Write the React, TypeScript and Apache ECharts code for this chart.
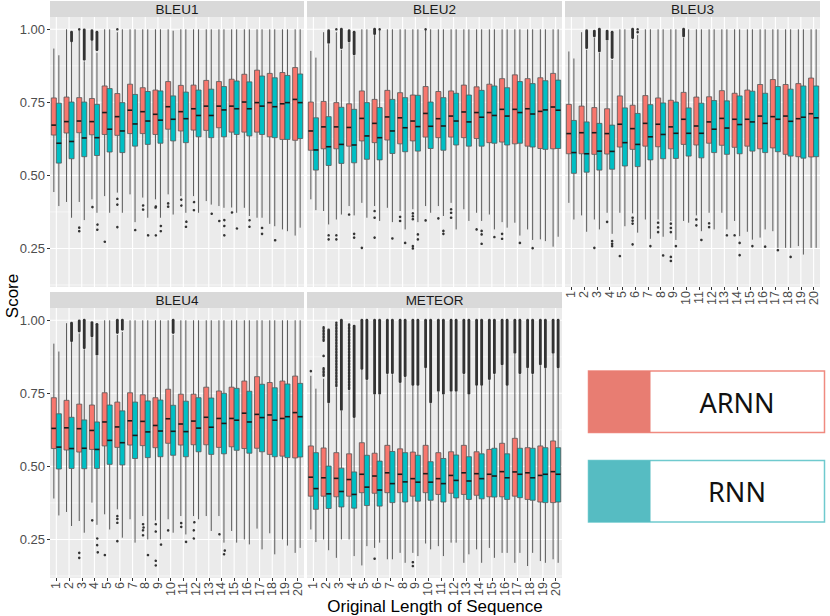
import React, { useEffect, useRef } from "react";
import * as echarts from "echarts";

const CATEGORIES = ["1","2","3","4","5","6","7","8","9","10","11","12","13","14","15","16","17","18","19","20"];
const PANELS = ["BLEU1", "BLEU2", "BLEU3", "BLEU4", "METEOR"];
const GROUPS = ["ARNN", "RNN"];
const Y_MIN = 0.118;
const Y_MAX = 1.042;
const Y_TICKS = [0.25, 0.5, 0.75, 1.0];
const Y_MINOR = [0.125, 0.375, 0.625, 0.875];
const X_TITLE = "Original Length of Sequence";
const Y_TITLE = "Score";

// each box: [lower whisker, Q1, median, Q3, upper whisker]
const BLEU1_ARNN = [
  [0.443,0.638,0.672,0.765,0.934],[0.409,0.645,0.684,0.768,1.0],[0.409,0.646,0.686,0.766,1.0],[0.418,0.639,0.684,0.763,0.96],
  [0.429,0.640,0.715,0.806,1.0],[0.441,0.637,0.701,0.780,0.99],[0.435,0.643,0.723,0.812,1.0],[0.424,0.643,0.718,0.800,1.0],
  [0.418,0.640,0.709,0.792,1.0],[0.435,0.658,0.735,0.821,1.0],[0.429,0.652,0.718,0.808,1.0],[0.429,0.655,0.728,0.809,1.0],
  [0.412,0.654,0.737,0.825,1.0],[0.395,0.663,0.737,0.821,1.0],[0.39,0.648,0.737,0.829,1.0],[0.389,0.648,0.751,0.846,1.0],
  [0.355,0.648,0.749,0.860,1.0],[0.334,0.632,0.749,0.849,1.0],[0.315,0.623,0.745,0.852,1.0],[0.294,0.620,0.760,0.869,1.0],
];
const BLEU1_RNN = [
  [0.395,0.542,0.610,0.747,0.911],[0.355,0.557,0.616,0.751,0.957],[0.347,0.564,0.628,0.751,0.89],[0.372,0.568,0.629,0.743,0.92],
  [0.372,0.580,0.658,0.797,1.0],[0.372,0.578,0.652,0.749,1.0],[0.340,0.600,0.676,0.777,1.0],[0.355,0.606,0.686,0.787,1.0],
  [0.355,0.610,0.689,0.789,1.0],[0.366,0.618,0.692,0.772,0.995],[0.372,0.612,0.694,0.785,1.0],[0.372,0.632,0.705,0.792,1.0],
  [0.40,0.629,0.705,0.795,1.0],[0.389,0.632,0.724,0.804,1.0],[0.372,0.640,0.728,0.823,1.0],[0.361,0.635,0.728,0.820,1.0],
  [0.355,0.640,0.737,0.840,1.0],[0.326,0.629,0.735,0.834,1.0],[0.309,0.623,0.749,0.842,1.0],[0.321,0.626,0.749,0.847,1.0],
];
const BLEU1_ARNN_OUT = [[3,0.321],[3,0.309],[3,1.0],[4,0.395],[5,0.275],[6,1.0],[6,0.42],[6,0.40],[6,0.323],[8,0.40],[8,0.386],[9,0.397],[9,0.392],[9,0.298],[10,0.404],[10,0.393],[11,0.42],[11,0.40],[12,0.412],[12,0.384],[14,0.347],[15,0.376]];
const BLEU1_RNN_OUT = [[4,0.335],[4,0.317],[7,0.315],[8,0.298],[9,0.33],[9,0.312],[11,0.345],[11,0.326],[13,0.372],[14,0.35],[14,0.33],[14,0.298],[15,0.321],[16,0.349],[16,0.326],[17,0.32],[17,0.30],[18,0.281]];
const BLEU1_ARNN_BAND = [[4,0.965,0.995]];
const BLEU1_RNN_BAND = [[2,0.96,0.99],[3,0.897,0.998],[4,0.93,0.99]];

const BLEU2_ARNN = [
  [0.418,0.586,0.652,0.751,0.926],[0.378,0.591,0.666,0.753,0.99],[0.349,0.591,0.666,0.749,0.99],[0.395,0.600,0.664,0.745,0.955],
  [0.406,0.618,0.695,0.789,1.0],[0.395,0.612,0.678,0.760,0.98],[0.389,0.621,0.700,0.791,1.0],[0.378,0.608,0.697,0.783,1.0],
  [0.384,0.618,0.686,0.775,1.0],[0.395,0.631,0.712,0.804,1.0],[0.395,0.629,0.694,0.787,1.0],[0.406,0.631,0.703,0.789,1.0],
  [0.384,0.629,0.717,0.809,1.0],[0.372,0.626,0.715,0.803,1.0],[0.366,0.612,0.715,0.812,1.0],[0.340,0.614,0.726,0.831,1.0],
  [0.338,0.608,0.726,0.844,1.0],[0.315,0.600,0.728,0.831,1.0],[0.281,0.592,0.719,0.834,1.0],[0.256,0.591,0.734,0.849,1.0],
];
const BLEU2_RNN = [
  [0.381,0.518,0.587,0.697,0.903],[0.332,0.534,0.598,0.701,0.949],[0.366,0.541,0.606,0.733,0.93],[0.363,0.543,0.604,0.726,0.909],
  [0.355,0.555,0.635,0.749,1.0],[0.344,0.553,0.629,0.732,1.0],[0.340,0.575,0.652,0.760,1.0],[0.315,0.581,0.663,0.766,1.0],
  [0.340,0.583,0.667,0.774,1.0],[0.372,0.592,0.668,0.751,1.0],[0.361,0.586,0.669,0.766,1.0],[0.315,0.604,0.686,0.781,1.0],
  [0.344,0.600,0.683,0.775,1.0],[0.344,0.600,0.699,0.791,1.0],[0.315,0.610,0.705,0.806,1.0],[0.321,0.604,0.703,0.800,1.0],
  [0.294,0.610,0.715,0.821,1.0],[0.279,0.597,0.710,0.814,1.0],[0.275,0.589,0.724,0.824,1.0],[0.290,0.592,0.723,0.826,1.0],
];
const BLEU2_ARNN_OUT = [[3,1.0],[10,1.0],[3,0.295],[3,0.281],[4,0.366],[5,0.252],[6,0.378],[6,0.355],[6,0.287],[8,0.358],[8,0.344],[9,0.37],[9,0.36],[9,0.35],[9,0.258],[9,0.25],[10,0.346],[11,0.353],[12,0.384],[12,0.372],[12,0.355],[14,0.315],[16,0.30],[16,0.283]];
const BLEU2_RNN_OUT = [[6,1.0],[2,0.295],[2,0.281],[4,0.30],[4,0.287],[7,0.284],[8,0.269],[9,0.298],[9,0.281],[11,0.31],[11,0.30],[14,0.31],[14,0.298],[14,0.266],[15,0.289],[17,0.269],[18,0.251]];
const BLEU2_ARNN_BAND = [[4,0.96,0.995],[6,0.985,1.0]];
const BLEU2_RNN_BAND = [[2,0.955,0.995],[3,0.937,1.0],[4,0.915,0.99]];

const BLEU3_ARNN = [
  [0.406,0.574,0.643,0.743,0.924],[0.363,0.574,0.646,0.737,0.99],[0.349,0.572,0.646,0.732,0.97],[0.372,0.573,0.643,0.728,0.96],
  [0.372,0.597,0.675,0.772,1.0],[0.37,0.589,0.660,0.740,0.965],[0.349,0.600,0.678,0.773,1.0],[0.349,0.598,0.675,0.765,1.0],
  [0.344,0.591,0.666,0.757,1.0],[0.344,0.606,0.692,0.784,0.97],[0.363,0.604,0.669,0.768,1.0],[0.372,0.610,0.683,0.769,1.0],
  [0.372,0.603,0.695,0.790,1.0],[0.344,0.596,0.692,0.781,1.0],[0.307,0.600,0.692,0.792,1.0],[0.287,0.591,0.703,0.811,1.0],
  [0.309,0.594,0.701,0.828,1.0],[0.252,0.572,0.703,0.811,1.0],[0.258,0.564,0.694,0.814,1.0],[0.252,0.563,0.711,0.833,1.0],
];
const BLEU3_RNN = [
  [0.349,0.507,0.578,0.688,0.900],[0.307,0.511,0.574,0.683,0.93],[0.315,0.518,0.583,0.678,0.92],[0.30,0.521,0.582,0.672,0.895],
  [0.326,0.532,0.612,0.731,1.0],[0.304,0.530,0.606,0.712,0.98],[0.283,0.553,0.632,0.742,1.0],[0.290,0.557,0.640,0.748,1.0],
  [0.279,0.558,0.644,0.751,1.0],[0.338,0.566,0.644,0.731,1.0],[0.309,0.560,0.644,0.747,1.0],[0.315,0.578,0.658,0.756,1.0],
  [0.315,0.572,0.662,0.755,1.0],[0.292,0.574,0.674,0.772,1.0],[0.28,0.583,0.683,0.788,1.0],[0.315,0.578,0.678,0.781,1.0],
  [0.252,0.581,0.692,0.804,1.0],[0.252,0.566,0.685,0.795,1.0],[0.229,0.559,0.699,0.806,1.0],[0.252,0.564,0.697,0.806,1.0],
];
const BLEU3_ARNN_OUT = [[3,0.252],[4,0.341],[5,0.224],[6,0.355],[6,0.345],[6,0.335],[6,0.264],[8,0.338],[8,0.322],[8,0.306],[9,0.335],[9,0.32],[9,0.306],[9,0.221],[9,0.207],[11,0.349],[11,0.329],[12,0.336],[12,0.323],[14,0.295]];
const BLEU3_RNN_OUT = [[6,0.99],[6,1.0],[4,0.275],[4,0.266],[4,0.258],[7,0.258],[8,0.226],[9,0.258],[11,0.279],[13,0.295],[14,0.269],[14,0.227],[15,0.258],[16,0.256],[17,0.244],[18,0.221]];
const BLEU3_ARNN_BAND = [[3,0.977,0.994],[4,0.966,0.994],[6,0.971,1.0],[10,0.977,1.0]];
const BLEU3_RNN_BAND = [[2,0.937,0.995],[3,0.926,1.0],[4,0.903,0.99]];

const BLEU4_ARNN = [
  [0.390,0.561,0.630,0.735,0.920],[0.344,0.556,0.632,0.726,0.99],[0.313,0.549,0.629,0.713,0.955],[0.376,0.558,0.623,0.710,0.94],
  [0.336,0.570,0.652,0.752,1.0],[0.353,0.565,0.635,0.720,0.95],[0.319,0.573,0.656,0.752,1.0],[0.330,0.571,0.654,0.745,1.0],
  [0.315,0.564,0.640,0.735,1.0],[0.319,0.579,0.663,0.764,1.0],[0.330,0.573,0.645,0.747,1.0],[0.330,0.574,0.655,0.747,1.0],
  [0.330,0.574,0.668,0.771,1.0],[0.330,0.565,0.664,0.758,1.0],[0.279,0.567,0.664,0.771,1.0],[0.250,0.561,0.682,0.792,1.0],
  [0.287,0.562,0.678,0.807,1.0],[0.271,0.541,0.676,0.787,1.0],[0.250,0.535,0.664,0.792,1.0],[0.204,0.529,0.684,0.809,1.0],
];
const BLEU4_RNN = [
  [0.332,0.491,0.566,0.680,0.893],[0.296,0.493,0.561,0.668,0.925],[0.273,0.492,0.562,0.659,0.90],[0.30,0.493,0.558,0.652,0.878],
  [0.284,0.507,0.589,0.710,1.0],[0.256,0.505,0.581,0.690,0.96],[0.239,0.527,0.606,0.720,1.0],[0.25,0.530,0.618,0.724,1.0],
  [0.250,0.533,0.621,0.727,1.0],[0.273,0.538,0.620,0.709,0.95],[0.267,0.533,0.619,0.723,1.0],[0.319,0.550,0.631,0.735,1.0],
  [0.279,0.541,0.634,0.734,1.0],[0.239,0.543,0.647,0.750,1.0],[0.239,0.555,0.658,0.767,1.0],[0.233,0.545,0.652,0.757,1.0],
  [0.216,0.550,0.667,0.781,1.0],[0.199,0.533,0.658,0.769,1.0],[0.229,0.530,0.670,0.782,1.0],[0.221,0.532,0.670,0.784,1.0],
];
const BLEU4_ARNN_OUT = [[3,0.204],[3,0.187],[4,0.318],[5,0.199],[6,0.33],[6,0.32],[6,0.307],[6,0.244],[8,0.305],[8,0.295],[8,0.284],[8,0.267],[9,0.305],[9,0.28],[9,0.18],[9,0.164],[10,0.281],[11,0.309],[11,0.296],[12,0.313],[12,0.284],[12,0.256],[14,0.271]];
const BLEU4_RNN_OUT = [[4,0.256],[4,0.233],[4,0.21],[8,0.199],[9,0.236],[11,0.244],[14,0.216],[14,0.201]];
const BLEU4_ARNN_BAND = [[3,0.963,0.998],[4,0.946,0.992],[6,0.958,1.0]];
const BLEU4_RNN_BAND = [[2,0.93,0.99],[3,0.906,1.0],[4,0.884,0.986],[6,0.969,1.0],[10,0.958,1.0]];

const METEOR_ARNN = [
  [0.284,0.398,0.463,0.570,0.81],[0.250,0.398,0.461,0.563,0.80],[0.187,0.396,0.459,0.547,0.77],[0.250,0.398,0.455,0.543,0.76],
  [0.161,0.410,0.473,0.581,0.83],[0.221,0.408,0.467,0.545,0.745],[0.182,0.410,0.478,0.572,0.815],[0.204,0.410,0.473,0.560,0.785],
  [0.204,0.398,0.458,0.549,0.775],[0.236,0.410,0.475,0.572,0.835],[0.227,0.404,0.458,0.547,0.755],[0.239,0.408,0.469,0.550,0.755],
  [0.170,0.404,0.478,0.572,0.815],[0.216,0.401,0.475,0.550,0.775],[0.221,0.396,0.473,0.558,0.795],[0.204,0.396,0.482,0.579,0.845],
  [0.170,0.398,0.481,0.596,0.885],[0.159,0.387,0.478,0.564,0.835],[0.176,0.378,0.469,0.570,0.845],[0.182,0.376,0.482,0.587,0.885],
];
const METEOR_RNN = [
  [0.241,0.353,0.424,0.547,0.766],[0.213,0.356,0.406,0.501,0.715],[0.250,0.361,0.414,0.494,0.69],[0.193,0.357,0.404,0.481,0.665],
  [0.227,0.366,0.429,0.538,0.795],[0.239,0.364,0.419,0.518,0.745],[0.182,0.376,0.441,0.551,0.815],[0.170,0.378,0.447,0.547,0.805],
  [0.193,0.381,0.446,0.538,0.775],[0.216,0.384,0.446,0.516,0.715],[0.193,0.378,0.441,0.527,0.745],[0.239,0.392,0.452,0.539,0.755],
  [0.199,0.387,0.450,0.533,0.745],[0.170,0.389,0.458,0.543,0.775],[0.187,0.395,0.467,0.562,0.815],[0.204,0.387,0.461,0.543,0.775],
  [0.204,0.393,0.473,0.562,0.815],[0.204,0.384,0.461,0.562,0.815],[0.170,0.376,0.473,0.564,0.835],[0.170,0.378,0.473,0.564,0.835],
];
const METEOR_ARNN_OUT = [[1,0.826],[2,0.878],[6,0.184],[9,0.172],[9,0.159]];
const METEOR_RNN_OUT = [];
// [category, from, to, sparse]
const METEOR_ARNN_BAND = [[2,0.93,0.978,1],[2,0.81,0.84,1],[3,0.775,0.992,1],[4,0.765,0.99,1],[5,0.835,1.0],[6,0.75,1.0],[7,0.82,1.0],[8,0.79,1.0],[9,0.78,1.0],[10,0.84,1.0],[11,0.76,1.0],[12,0.76,1.0],[13,0.82,1.0],[14,0.78,1.0],[15,0.80,1.0],[16,0.85,1.0],[17,0.89,1.0],[18,0.84,1.0],[19,0.85,1.0],[20,0.89,1.0]];
const METEOR_RNN_BAND = [[2,0.72,0.967],[3,0.695,1.0],[4,0.67,0.98],[5,0.80,1.0],[6,0.75,1.0],[7,0.82,1.0],[8,0.81,1.0],[9,0.78,1.0],[10,0.72,1.0],[11,0.75,1.0],[12,0.76,1.0],[13,0.75,1.0],[14,0.78,1.0],[15,0.82,1.0],[16,0.78,1.0],[17,0.82,1.0],[18,0.82,1.0],[19,0.84,1.0],[20,0.84,1.0]];

const DATA: any = {
  BLEU1: { ARNN: [BLEU1_ARNN, BLEU1_ARNN_OUT, BLEU1_ARNN_BAND], RNN: [BLEU1_RNN, BLEU1_RNN_OUT, BLEU1_RNN_BAND] },
  BLEU2: { ARNN: [BLEU2_ARNN, BLEU2_ARNN_OUT, BLEU2_ARNN_BAND], RNN: [BLEU2_RNN, BLEU2_RNN_OUT, BLEU2_RNN_BAND] },
  BLEU3: { ARNN: [BLEU3_ARNN, BLEU3_ARNN_OUT, BLEU3_ARNN_BAND], RNN: [BLEU3_RNN, BLEU3_RNN_OUT, BLEU3_RNN_BAND] },
  BLEU4: { ARNN: [BLEU4_ARNN, BLEU4_ARNN_OUT, BLEU4_ARNN_BAND], RNN: [BLEU4_RNN, BLEU4_RNN_OUT, BLEU4_RNN_BAND] },
  METEOR: { ARNN: [METEOR_ARNN, METEOR_ARNN_OUT, METEOR_ARNN_BAND], RNN: [METEOR_RNN, METEOR_RNN_OUT, METEOR_RNN_BAND] },
};

const FONT = "'Liberation Sans', Arial, Helvetica, sans-serif";
const FILL: any = { ARNN: "#F8766D", RNN: "#00BFC4" };
const PH = 270;
const STRIP_H = 16;
const BOX_FRAC = 0.395;
const LAYOUT = [
  { x: 50, y: 17, w: 254, showX: false, showY: true },
  { x: 307, y: 17, w: 255, showX: false, showY: false },
  { x: 565, y: 17, w: 255, showX: true, showY: false },
  { x: 50, y: 308, w: 254, showX: true, showY: true },
  { x: 307, y: 308, w: 255, showX: true, showY: false },
];

function boxRenderer(sign: number, fill: string) {
  return (params: any, api: any) => {
    const i = api.value(0);
    const c = api.coord([i, 0])[0];
    const bw = api.size([1, 0])[0];
    const w = bw * BOX_FRAC;
    const cx = c + (sign * w) / 2;
    const py = (k: number) => api.coord([i, api.value(k)])[1];
    const yLo = py(1), yQ1 = py(2), yMed = py(3), yQ3 = py(4), yHi = py(5);
    const wh = { stroke: "#5a5a5a", lineWidth: 1 };
    return {
      type: "group",
      children: [
        { type: "line", shape: { x1: cx, y1: yHi, x2: cx, y2: yQ3 }, style: wh },
        { type: "line", shape: { x1: cx, y1: yQ1, x2: cx, y2: yLo }, style: wh },
        { type: "rect", shape: { x: cx - w / 2, y: yQ3, width: w, height: yQ1 - yQ3 }, style: { fill, stroke: "#555555", lineWidth: 0.8 } },
        { type: "line", shape: { x1: cx - w / 2, y1: yMed, x2: cx + w / 2, y2: yMed }, style: { stroke: "#1a1a1a", lineWidth: 1.6 } },
      ],
    };
  };
}

function dotRenderer(sign: number) {
  return (params: any, api: any) => {
    const i = api.value(0);
    const c = api.coord([i, 0])[0];
    const bw = api.size([1, 0])[0];
    const cx = c + (sign * bw * BOX_FRAC) / 2;
    const y = api.coord([i, api.value(1)])[1];
    return { type: "circle", shape: { cx, cy: y, r: 1.3 }, style: { fill: "#333333" } };
  };
}

function bandRenderer(sign: number) {
  return (params: any, api: any) => {
    const i = api.value(0);
    const c = api.coord([i, 0])[0];
    const bw = api.size([1, 0])[0];
    const cx = c + (sign * bw * BOX_FRAC) / 2;
    const y1 = api.coord([i, api.value(1)])[1];
    const y2 = api.coord([i, api.value(2)])[1];
    const sparse = api.value(3) === 1;
    return {
      type: "line",
      shape: { x1: cx, y1, x2: cx, y2 },
      style: { stroke: "#333333", lineWidth: sparse ? 2.4 : 2.8, lineCap: "round", lineDash: sparse ? [1.6, 1.4] : null },
    };
  };
}

function buildOption() {
  const grid: any[] = [];
  const xAxis: any[] = [];
  const yAxis: any[] = [];
  const series: any[] = [];
  const graphic: any[] = [];

  PANELS.forEach((name, pi) => {
    const L = LAYOUT[pi];
    grid.push({ left: L.x, top: L.y, width: L.w, height: PH, show: true, backgroundColor: "#EBEBEB", borderWidth: 0, containLabel: false, outerBoundsMode: "none" });
    xAxis.push({
      type: "category", gridIndex: pi, data: CATEGORIES, boundaryGap: true,
      axisLine: { show: false },
      axisTick: { show: L.showX, length: 3, alignWithLabel: true, interval: 0, lineStyle: { color: "#333333" } },
      axisLabel: { show: L.showX, rotate: 90, margin: 4, interval: 0, fontSize: 12.5, color: "#4D4D4D", fontFamily: FONT },
      splitLine: { show: false },
    });
    yAxis.push({
      type: "value", gridIndex: pi, min: Y_MIN, max: Y_MAX,
      axisLine: { show: false },
      axisTick: { show: L.showY, length: 3, customValues: Y_TICKS, lineStyle: { color: "#333333" } },
      axisLabel: { show: L.showY, customValues: Y_TICKS, margin: 5, fontSize: 13, color: "#4D4D4D", fontFamily: FONT, formatter: (v: number) => v.toFixed(2) },
      splitLine: { show: false },
    });
    series.push({
      type: "custom", xAxisIndex: pi, yAxisIndex: pi, silent: true, z: 1,
      data: [...Y_MINOR.map((v) => [0, v, 0]), ...Y_TICKS.map((v) => [0, v, 1])],
      encode: { x: 0, y: 1 },
      renderItem: (params: any, api: any) => {
        const cs = params.coordSys;
        const y = api.coord([0, api.value(1)])[1];
        return { type: "line", shape: { x1: cs.x, y1: y, x2: cs.x + cs.width, y2: y }, style: { stroke: "#ffffff", lineWidth: api.value(2) ? 1.1 : 0.55 } };
      },
    });
    series.push({
      type: "custom", xAxisIndex: pi, yAxisIndex: pi, silent: true, z: 1,
      data: CATEGORIES.map((_, i) => [i, 0.5]),
      encode: { x: 0, y: 1 },
      renderItem: (params: any, api: any) => {
        const cs = params.coordSys;
        const x = api.coord([api.value(0), 0.5])[0];
        return { type: "line", shape: { x1: x, y1: cs.y, x2: x, y2: cs.y + cs.height }, style: { stroke: "#ffffff", lineWidth: 1.1 } };
      },
    });
    GROUPS.forEach((g, gi) => {
      const sign = gi === 0 ? -1 : 1;
      const [boxes, outs, bands] = DATA[name][g];
      series.push({
        type: "custom", name: g, xAxisIndex: pi, yAxisIndex: pi, silent: true, z: 3,
        data: boxes.map((b: number[], i: number) => [i, ...b]),
        encode: { x: 0, y: [1, 2, 3, 4, 5] },
        renderItem: boxRenderer(sign, FILL[g]),
      });
      series.push({
        type: "custom", name: g, xAxisIndex: pi, yAxisIndex: pi, silent: true, z: 4,
        data: bands.map((b: number[]) => [b[0] - 1, b[1], b[2], b[3] || 0]),
        encode: { x: 0, y: [1, 2] },
        renderItem: bandRenderer(sign),
      });
      series.push({
        type: "custom", name: g, xAxisIndex: pi, yAxisIndex: pi, silent: true, z: 4,
        data: outs.map((o: number[]) => [o[0] - 1, o[1]]),
        encode: { x: 0, y: 1 },
        renderItem: dotRenderer(sign),
      });
    });
    graphic.push({ type: "rect", shape: { x: L.x, y: L.y - STRIP_H, width: L.w, height: STRIP_H }, style: { fill: "#D9D9D9" }, silent: true });
    graphic.push({
      type: "text", x: L.x + L.w / 2, y: L.y - STRIP_H / 2 + 0.5, silent: true,
      style: { text: name, fontSize: 13.5, fontFamily: FONT, fill: "#1A1A1A", align: "center", verticalAlign: "middle" },
    });
  });

  graphic.push({
    type: "text", x: 12, y: 296, rotation: Math.PI / 2, silent: true,
    style: { text: Y_TITLE, fontSize: 17, fontFamily: FONT, fill: "#000000", align: "center", verticalAlign: "middle" },
  });
  graphic.push({
    type: "text", x: 435, y: 606, silent: true,
    style: { text: X_TITLE, fontSize: 17, fontFamily: FONT, fill: "#000000", align: "center", verticalAlign: "middle" },
  });

  const LEG = [
    { name: GROUPS[0], y: 371, fill: "#E87D72", border: "#F08A80" },
    { name: GROUPS[1], y: 460.5, fill: "#56BCC2", border: "#6FCACE" },
  ];
  LEG.forEach((l) => {
    graphic.push({ type: "rect", shape: { x: 588.5, y: l.y, width: 236, height: 61.5 }, style: { fill: "#ffffff", stroke: l.border, lineWidth: 1.5 }, silent: true });
    graphic.push({ type: "rect", shape: { x: 588.5, y: l.y, width: 62, height: 61.5 }, style: { fill: l.fill }, silent: true });
    graphic.push({
      type: "text", x: 737, y: l.y + 31, silent: true,
      style: { text: l.name, fontSize: 27, fontFamily: "'Noto Sans', 'Open Sans', sans-serif", fill: "#111111", align: "center", verticalAlign: "middle" },
    });
  });

  return {
    animation: false,
    backgroundColor: "#ffffff",
    textStyle: { fontFamily: FONT },
    grid, xAxis, yAxis, series, graphic,
  };
}

export default function App() {
  const ref = useRef<HTMLDivElement>(null);
  useEffect(() => {
    if (!ref.current) return;
    const chart = echarts.init(ref.current, null, { renderer: "svg" });
    chart.setOption(buildOption() as any);
    return () => chart.dispose();
  }, []);
  return <div ref={ref} style={{ position: "absolute", left: 0, top: 0, width: 830, height: 616 }} />;
}
